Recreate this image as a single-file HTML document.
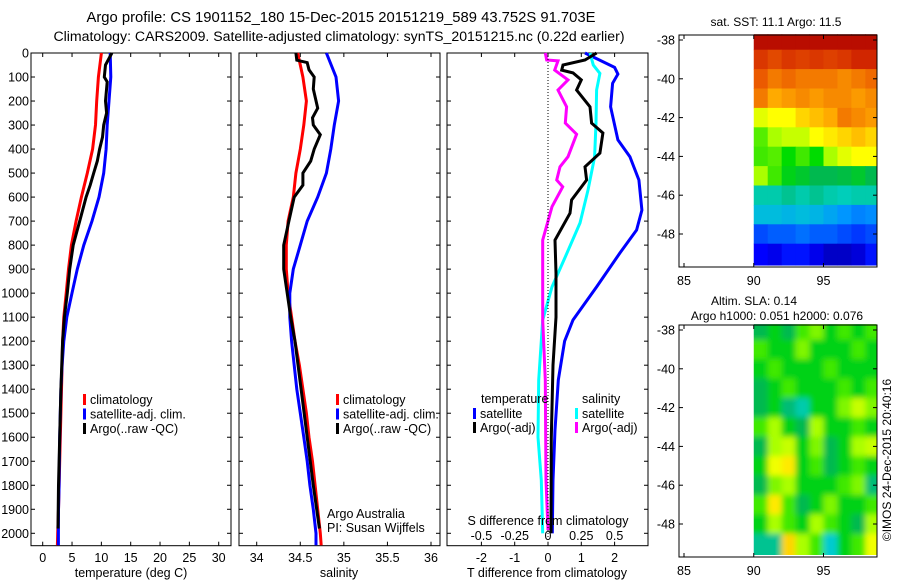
<!DOCTYPE html>
<html><head><meta charset="utf-8"><style>
html,body{margin:0;padding:0;background:#fff;}
svg{display:block;font-family:"Liberation Sans",sans-serif;}
text{fill:#000;}
</style></head><body>
<svg id="fig" width="900" height="580" viewBox="0 0 900 580" xmlns="http://www.w3.org/2000/svg">
<text x="341" y="22" font-size="14.8" text-anchor="middle">Argo profile: CS 1901152_180 15-Dec-2015 20151219_589 43.752S 91.703E</text>
<text x="339" y="41" font-size="14.1" text-anchor="middle">Climatology: CARS2009. Satellite-adjusted climatology: synTS_20151215.nc (0.22d earlier)</text>
<g id="g"></g>
</svg>
<script>
// ---- data ----
const depthTicks = [0,100,200,300,400,500,600,700,800,900,1000,1100,1200,1300,1400,1500,1600,1700,1800,1900,2000];
const climDepth = [0,100,200,300,400,500,600,700,800,900,1000,1100,1200,1300,1400,1500,1600,1700,1800,1900,2000,2050];
const climT = [10.0,9.5,9.2,9.0,8.5,7.6,6.6,5.7,4.9,4.4,4.0,3.6,3.4,3.3,3.2,3.1,3.0,2.9,2.8,2.7,2.55,2.5];
const satT = [11.5,11.6,11.3,11.0,10.8,10.4,9.6,8.4,7.0,5.9,5.0,4.1,3.6,3.3,3.1,3.0,2.9,2.85,2.8,2.7,2.67,2.67];
const argoTDepth = [0,50,100,120,200,250,300,350,400,450,500,550,600,700,800,900,1000,1100,1200,1400,1600,1800,1980];
const argoT = [11.8,10.7,10.5,11.0,10.7,10.9,10.4,10.2,9.7,9.3,8.7,8.1,7.4,6.3,5.2,4.6,4.2,3.7,3.4,3.1,2.9,2.7,2.6];
const climS = [34.47,34.53,34.57,34.54,34.50,34.45,34.42,34.36,34.34,34.34,34.36,34.40,34.44,34.49,34.53,34.57,34.60,34.64,34.67,34.70,34.73,34.74];
const satS = [34.80,34.91,34.94,34.89,34.85,34.80,34.70,34.58,34.50,34.42,34.38,34.38,34.40,34.43,34.46,34.50,34.54,34.58,34.61,34.65,34.68,34.68];
const argoSDepth = [0,30,40,70,100,150,230,270,300,340,400,450,500,550,600,700,800,900,1000,1100,1200,1400,1600,1800,1980];
const argoS = [34.45,34.46,34.58,34.60,34.66,34.65,34.70,34.64,34.65,34.73,34.66,34.62,34.53,34.53,34.43,34.37,34.31,34.31,34.35,34.39,34.44,34.51,34.58,34.65,34.72];
const satDTDepth = [0,60,88,126,224,362,432,529,654,737,833,974,1112,1200,1362,1570,1779,2000];
const satDT = [1.11,2.0,2.1,1.94,1.88,2.1,2.46,2.73,2.82,2.66,2.16,1.46,0.75,0.5,0.31,0.21,0.15,0.13];
const argoDTDepth = [0,29,50,71,83,112,154,224,292,333,417,474,529,612,667,779,917,1100,1300,1600,2000];
const argoDT = [1.46,1.11,0.45,0.41,0.75,1.0,0.86,1.26,1.31,1.65,1.56,1.11,1.16,0.71,0.66,0.21,0.24,0.24,0.15,0.1,0.09];
const satDSDepth = [0,50,85,154,292,433,571,708,849,974,1112,1362,1600,1779,2000];
const satDS = [0.315,0.34,0.39,0.365,0.36,0.35,0.30,0.24,0.13,0.03,-0.04,-0.07,-0.075,-0.05,-0.04];
const argoDSDepth = [0,29,33,71,112,154,224,292,338,432,474,529,557,640,779,917,1112,1362,1779,1987];
const argoDS = [-0.02,-0.01,0.075,0.05,0.15,0.075,0.14,0.13,0.215,0.15,0.09,0.065,0.11,0.03,-0.04,-0.04,-0.04,-0.02,-0.015,0];
const tTicks = [0,5,10,15,20,25,30];
const sTicks = [34,34.5,35,35.5,36];
const dTTicks = [-2,-1,0,1,2];
const dSTicks = [-0.5,-0.25,0,0.25,0.5];
const latTicks = [-38,-40,-42,-44,-46,-48];
const lonTicks = [85,90,95];
const gridLats = [-38,-39,-40,-41,-42,-43,-44,-45,-46,-47,-48,-49];
const gridLons = [90,91,92,93,94,95,96,97,98];
const sstGrid = [
[0.95,0.95,0.95,0.95,0.95,0.95,0.95,0.95,0.95],
[0.88,0.86,0.88,0.87,0.88,0.87,0.88,0.9,0.9],
[0.84,0.8,0.82,0.8,0.8,0.8,0.78,0.8,0.82],
[0.8,0.74,0.76,0.78,0.76,0.78,0.78,0.76,0.78],
[0.64,0.66,0.66,0.7,0.72,0.74,0.8,0.78,0.76],
[0.56,0.6,0.62,0.62,0.66,0.68,0.7,0.72,0.7],
[0.55,0.56,0.52,0.55,0.52,0.6,0.64,0.66,0.66],
[0.6,0.55,0.5,0.48,0.45,0.45,0.46,0.48,0.45],
[0.38,0.38,0.4,0.38,0.4,0.38,0.37,0.38,0.38],
[0.33,0.33,0.32,0.33,0.32,0.3,0.28,0.26,0.27],
[0.2,0.22,0.22,0.24,0.22,0.22,0.2,0.18,0.2],
[0.12,0.1,0.14,0.14,0.1,0.06,0.06,0.08,0.14]];
const slaGrid = [
[0.45,0.5,0.45,0.55,0.58,0.5,0.55,0.5,0.55],
[0.55,0.5,0.5,0.58,0.5,0.5,0.5,0.55,0.5],
[0.5,0.55,0.5,0.5,0.5,0.55,0.5,0.5,0.5],
[0.45,0.5,0.55,0.5,0.5,0.5,0.55,0.5,0.55],
[0.45,0.5,0.42,0.38,0.5,0.5,0.58,0.62,0.58],
[0.55,0.6,0.5,0.45,0.6,0.5,0.5,0.55,0.5],
[0.45,0.6,0.62,0.5,0.58,0.45,0.5,0.6,0.62],
[0.5,0.65,0.68,0.5,0.55,0.45,0.5,0.55,0.5],
[0.45,0.58,0.6,0.5,0.5,0.5,0.55,0.58,0.42],
[0.55,0.68,0.55,0.45,0.5,0.58,0.5,0.5,0.55],
[0.5,0.6,0.55,0.5,0.6,0.55,0.5,0.45,0.6],
[0.4,0.4,0.7,0.6,0.55,0.35,0.5,0.55,0.65]];

// ---- helpers ----
const NS='http://www.w3.org/2000/svg';
const G=document.getElementById('g');
function mk(tag,attrs,parent){const e=document.createElementNS(NS,tag);for(const k in attrs)e.setAttribute(k,attrs[k]);(parent||G).appendChild(e);return e;}
const TOP=53, BOT=545.7;
const yD = d => TOP + d*(533.3-TOP)/2000;
function lin(v0,p0,v1,p1){return v=>p0+(v-v0)*(p1-p0)/(v1-v0);}
const xT = lin(0,42.7,30,218.7);
const xS = lin(34,256.7,36,431);
const xDT = lin(0,548,2,614.6);
const xDS = v => xDT(v*4);

const panels=[{name:'temperature-panel',l:31,r:231},{name:'salinity-panel',l:239,r:440},{name:'difference-panel',l:447,r:648}];

function series(xs,ds,xf,color,name,parent){
  const pts=xs.map((v,i)=>xf(v).toFixed(1)+','+yD(ds[i]).toFixed(1)).join(' ');
  const p=mk('polyline',{points:pts,fill:'none',stroke:color,'stroke-width':3,'stroke-linejoin':'miter'},parent);
  
  
}
function txt(s,x,y,opts,parent){const t=mk('text',Object.assign({x:x,y:y,'font-size':12.5},opts||{}),parent);t.textContent=s;return t;}

panels.forEach((P,pi)=>{
  const g=mk('g',{});
  
  
  P.g=g;
  const r=mk('rect',{x:P.l,y:TOP,width:P.r-P.l,height:BOT-TOP,fill:'none',stroke:'#000','stroke-width':1},g);
  
  
  depthTicks.forEach(d=>{
    const y=yD(d);
    mk('line',{x1:P.l,x2:P.l+4,y1:y,y2:y,stroke:'#000'},g);
    mk('line',{x1:P.r-4,x2:P.r,y1:y,y2:y,stroke:'#000'},g);
    if(pi===0){const t=txt(String(d),29,y+4.5,{'text-anchor':'end'},g);
      
      }
  });
});
function xticks(P,ticks,xf,labels,ly){
  ticks.forEach((v,i)=>{const x=xf(v);
    mk('line',{x1:x,x2:x,y1:TOP,y2:TOP+4,stroke:'#000'},P.g);
    mk('line',{x1:x,x2:x,y1:BOT-4,y2:BOT,stroke:'#000'},P.g);
    const t=txt(labels[i],x,ly,{'text-anchor':'middle'},P.g);
    
    });
}
xticks(panels[0],tTicks,xT,tTicks.map(String),562);
xticks(panels[1],sTicks,xS,sTicks.map(String),562);
xticks(panels[2],dTTicks,xDT,dTTicks.map(String),562);
dSTicks.forEach(v=>{const t=txt(String(v),xDS(v),540,{'text-anchor':'middle'},panels[2].g);
  
  });
[['temperature (deg C)',131],['salinity',339],['T difference from climatology',547]].forEach(a=>{
  const t=txt(a[0],a[1],577,{'text-anchor':'middle'});
  
  });
const st=txt('S difference from climatology',548,525,{'text-anchor':'middle'});



const z=mk('line',{x1:xDT(0),x2:xDT(0),y1:TOP,y2:BOT,stroke:'#000','stroke-dasharray':'1,2'});



series(climT,climDepth,xT,'#ff0000','clim-temperature-line',panels[0].g);
series(satT,climDepth,xT,'#0000ff','sat-temperature-line',panels[0].g);
series(argoT,argoTDepth,xT,'#000000','argo-temperature-line',panels[0].g);
series(climS,climDepth,xS,'#ff0000','clim-salinity-line',panels[1].g);
series(satS,climDepth,xS,'#0000ff','sat-salinity-line',panels[1].g);
series(argoS,argoSDepth,xS,'#000000','argo-salinity-line',panels[1].g);
series(satDT,satDTDepth,xDT,'#0000ff','sat-t-diff-line',panels[2].g);
series(satDS,satDSDepth,xDS,'#00ffff','sat-s-diff-line',panels[2].g);
series(argoDS,argoDSDepth,xDS,'#ff00ff','argo-s-diff-line',panels[2].g);
series(argoDT,argoDTDepth,xDT,'#000000','argo-t-diff-line',panels[2].g);

function legEntry(x,y,color,label,name){
  const g=mk('g',{});
  
  
  mk('rect',{x:x,y:y-10,width:3,height:11,fill:color},g);
  txt(label,x+7,y,{},g);
}
[[83,'#ff0000','climatology'],[83,'#0000ff','satellite-adj. clim.'],[83,'#000000','Argo(..raw -QC)']].forEach((e,i)=>legEntry(e[0],404+i*14.5,e[1],e[2],'legend-entry'));
[[336,'#ff0000','climatology'],[336,'#0000ff','satellite-adj. clim.'],[336,'#000000','Argo(..raw -QC)']].forEach((e,i)=>legEntry(e[0],404+i*14.5,e[1],e[2],'legend-entry'));
const lt=txt('temperature',481,403,{});
const ls=txt('salinity',582,403,{});
legEntry(473,418,'#0000ff','satellite','legend-entry');
legEntry(473,432,'#000000','Argo(-adj)','legend-entry');
legEntry(575,418,'#00ffff','satellite','legend-entry');
legEntry(575,432,'#ff00ff','Argo(-adj)','legend-entry');
const a1=txt('Argo Australia',327,518,{});
const a2=txt('PI: Susan Wijffels',327,532,{});

// ---- maps ----
const stops=[[0,[0,0,143]],[0.12,[0,0,255]],[0.28,[0,150,255]],[0.36,[0,210,200]],[0.44,[0,180,90]],[0.52,[0,220,0]],[0.6,[170,255,0]],[0.66,[255,255,0]],[0.74,[255,170,0]],[0.84,[235,90,0]],[0.92,[200,20,0]],[1,[160,0,0]]];
function cmap(v){for(let i=1;i<stops.length;i++){if(v<=stops[i][0]){const a=stops[i-1],b=stops[i];const t=(v-a[0])/(b[0]-a[0]);
  const c=a[1].map((q,k)=>Math.round(q+(b[1][k]-q)*t));return 'rgb('+c.join(',')+')';}}return 'rgb(160,0,0)';}
const xLon=lin(85,684,95,823.5);
const yLatTop=lin(-38,40,-48,234);
const defs=mk('defs',{});
const flt=mk('filter',{id:'blur',x:'-5%',y:'-5%',width:'110%',height:'110%'},defs);
mk('feGaussianBlur',{stdDeviation:'3'},flt);
const clp=mk('clipPath',{id:'clip2'},defs);
mk('rect',{x:xLon(90),y:325+(yLatTop(-37.7)-35),width:876.5-xLon(90),height:265-yLatTop(-37.7)},clp);
function drawMap(name,grid,oy,title,blur){
  const g=mk('g',{});
  
  
  const yLat=v=>yLatTop(v)+oy;
  const cells=mk('g',blur?{'clip-path':'url(#clip2)'}:{},g);
  const inner=mk('g',blur?{filter:'url(#blur)'}:{},cells);
  gridLats.forEach((la,i)=>gridLons.forEach((lo,j)=>{
    const x0=xLon(lo)-(blur&&j===0?6:0), x1=j===gridLons.length-1?876.5+(blur?6:0):xLon(lo+1);
    const y0=i===0?yLat(-37.7)-(blur?6:0):yLat(la+0.5), y1=i===gridLats.length-1?yLat(-49.6)+(blur?6:0):yLat(la-0.5);
    const c=mk('rect',{x:x0,y:y0,width:x1-x0+0.5,height:y1-y0+0.5,fill:cmap(grid[i][j])},inner);
    
    
  }));
  const f=mk('rect',{x:679,y:35+oy,width:198,height:232,fill:'none',stroke:'#000'},g);
  
  
  latTicks.forEach(v=>{const y=yLat(v);
    mk('line',{x1:679,x2:683,y1:y,y2:y,stroke:'#000'},g);mk('line',{x1:873,x2:877,y1:y,y2:y,stroke:'#000'},g);
    const t=txt(String(v),675,y+4.5,{'text-anchor':'end'},g);
    
    });
  lonTicks.forEach(v=>{const x=xLon(v);
    mk('line',{x1:x,x2:x,y1:35+oy,y2:39+oy,stroke:'#000'},g);mk('line',{x1:x,x2:x,y1:263+oy,y2:267+oy,stroke:'#000'},g);
    const t=txt(String(v),x,285+oy,{'text-anchor':'middle'},g);
    
    });
  title.forEach((s,k)=>{const t=txt(s[0],s[1],s[2],{'text-anchor':'middle','font-size':12},g);
    
    });
}
drawMap('sst-map',sstGrid,0,[['sat. SST: 11.1 Argo: 11.5',776,26]],false);
drawMap('sla-map',slaGrid,290,[['Altim. SLA: 0.14',754,305],['Argo h1000: 0.051 h2000: 0.076',777,320]],true);
const cr=txt('©IMOS 24-Dec-2015 20:40:16',0,0,{'text-anchor':'middle','font-size':12,transform:'translate(891,460) rotate(-90)'});


</script>
</body></html>
